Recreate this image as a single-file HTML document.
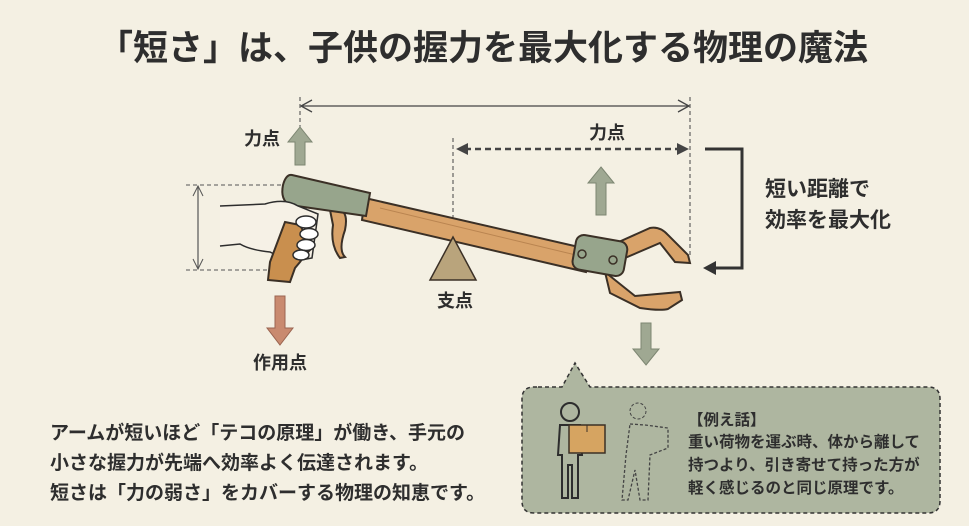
<!DOCTYPE html>
<html><head><meta charset="utf-8"><style>
html,body{margin:0;padding:0;background:#f4f0e3;}
svg{display:block}
text{font-family:"Liberation Sans","Noto Sans CJK JP",sans-serif;font-weight:bold;fill:#2e2e2e}
</style></head><body>
<svg width="969" height="526" viewBox="0 0 969 526" xmlns="http://www.w3.org/2000/svg">
<rect width="969" height="526" fill="#f4f0e3"/>
<text x="483" y="60" font-size="35" text-anchor="middle">「短さ」は、子供の握力を最大化する物理の魔法</text>

<line x1="300" y1="97" x2="300" y2="130" stroke="#444" stroke-width="1" stroke-dasharray="4,3"/>
<line x1="690" y1="97" x2="690" y2="255" stroke="#444" stroke-width="1" stroke-dasharray="4,3"/>
<line x1="301" y1="106" x2="689" y2="106" stroke="#444" stroke-width="1.3"/>
<polyline points="312,100 301,106 312,112" fill="none" stroke="#444" stroke-width="1.3"/>
<polyline points="678,100 689,106 678,112" fill="none" stroke="#444" stroke-width="1.3"/>

<text x="262" y="145" font-size="18" text-anchor="middle">力点</text>
<polygon points="300,127 312,142 305,142 305,165 295,165 295,142 288,142" fill="#9fa892" stroke="#7d8672"/>

<text x="607" y="139" font-size="18" text-anchor="middle">力点</text>
<line x1="453" y1="138" x2="453" y2="236" stroke="#444" stroke-width="1" stroke-dasharray="4,3"/>
<line x1="465" y1="149" x2="678" y2="149" stroke="#444" stroke-width="2.5" stroke-dasharray="6,4"/>
<polygon points="456,149 468,143 468,155" fill="#444"/>
<polygon points="689,149 677,143 677,155" fill="#444"/>
<polygon points="601,167 614,183 606,183 606,215 596,215 596,183 588,183" fill="#9fa892" stroke="#7d8672"/>

<polyline points="705,149 742,149 742,268 715,268" fill="none" stroke="#333" stroke-width="3"/>
<polygon points="703,268 716,261 716,275" fill="#333"/>
<text x="765" y="196" font-size="21">短い距離で</text>
<text x="765" y="227" font-size="21">効率を最大化</text>

<line x1="186" y1="185" x2="290" y2="185" stroke="#555" stroke-dasharray="4,3"/>
<line x1="186" y1="270" x2="290" y2="270" stroke="#555" stroke-dasharray="4,3"/>
<line x1="198" y1="186" x2="198" y2="269" stroke="#555" stroke-width="1.2"/>
<polyline points="193,196 198,186 203,196" fill="none" stroke="#555"/>
<polyline points="193,259 198,269 203,259" fill="none" stroke="#555"/>

<polygon points="365,198 592,250 586,272 362,220" fill="#d9a36a" stroke="#3b3026" stroke-width="2"/>
<line x1="380" y1="208" x2="580" y2="256" stroke="#b98450" stroke-width="1"/>
<path d="M612,245 L650,228 Q660,226 668,235 L688,255 L690,263 L675,262 L660,243 L625,258 Z" fill="#d9a36a" stroke="#3b3026" stroke-width="2"/>
<path d="M605,272 L635,296 L680,292 L682,300 L668,309 Q660,311 640,308 L610,293 Z" fill="#d9a36a" stroke="#3b3026" stroke-width="2"/>
<rect x="574" y="238" width="52" height="35" rx="8" fill="#97a58c" stroke="#3b3026" stroke-width="2" transform="rotate(10 600 255)"/>
<circle cx="582" cy="254" r="4" fill="none" stroke="#3b3026" stroke-width="1.5"/>
<circle cx="613" cy="260" r="4" fill="none" stroke="#3b3026" stroke-width="1.5"/>
<path d="M330,210 Q350,205 345,230 Q338,250 345,257 L340,258 Q330,245 333,225 Z" fill="#d9a36a" stroke="#3b3026" stroke-width="2"/>
<path d="M292,175 L370,193 L366,216 L290,205 Q280,200 283,185 Q286,174 292,175 Z" fill="#97a58c" stroke="#3b3026" stroke-width="2"/>
<path d="M220,206 L265,204 Q285,198 298,206 L318,214 L312,258 L290,262 L270,252 Q250,250 240,244 L220,246" fill="#f6f1e6" stroke="#2d2d2d" stroke-width="1.5"/>
<path d="M285,222 L300,225 L312,248 L305,255 L300,262 L295,268 L290,282 L268,280 L270,262 Z" fill="#c98f4e" stroke="#3b3026" stroke-width="2"/>
<ellipse cx="306" cy="222" rx="10" ry="6" fill="#fff" stroke="#2d2d2d" stroke-width="1.5"/>
<ellipse cx="309" cy="234" rx="9" ry="5.5" fill="#fff" stroke="#2d2d2d" stroke-width="1.5"/>
<ellipse cx="306" cy="245" rx="9" ry="5.5" fill="#fff" stroke="#2d2d2d" stroke-width="1.5"/>
<ellipse cx="301" cy="255" rx="8" ry="5" fill="#fff" stroke="#2d2d2d" stroke-width="1.5"/>

<polygon points="453,237 476,280 430,280" fill="#b9a47c" stroke="#3b3026" stroke-width="1.5"/>
<text x="455" y="307" font-size="18" text-anchor="middle">支点</text>

<polygon points="280,345 293,328 285,328 285,296 275,296 275,328 267,328" fill="#c98a6f" stroke="#9a6450"/>
<text x="280" y="369" font-size="18" text-anchor="middle">作用点</text>

<polygon points="646,365 659,349 651,349 651,323 641,323 641,349 633,349" fill="#9fa892" stroke="#7d8672"/>

<text x="50" y="439" font-size="19">アームが短いほど「テコの原理」が働き、手元の</text>
<text x="50" y="469" font-size="19">小さな握力が先端へ効率よく伝達されます。</text>
<text x="50" y="499" font-size="19">短さは「力の弱さ」をカバーする物理の知恵です。</text>

<path d="M538,387 L562,387 L575,363 L590,387 L928,387 Q940,387 940,399 L940,501 Q940,513 928,513 L534,513 Q522,513 522,501 L522,399 Q522,387 534,387 Z" fill="#aeb6a0" stroke="#333" stroke-width="1.5" stroke-dasharray="4,3"/>
<circle cx="570" cy="412" r="9" fill="none" stroke="#2d2d2d" stroke-width="2"/>
<path d="M560,425 L580,425 L582,455 L578,455 L578,498 L572,498 L572,465 L568,465 L568,498 L562,498 L562,455 L558,455 Z" fill="none" stroke="#2d2d2d" stroke-width="2"/>
<rect x="569" y="425" width="36" height="28" fill="#d6a461" stroke="#3b3026" stroke-width="1.5"/>
<line x1="587" y1="425" x2="587" y2="432" stroke="#3b3026"/>
<circle cx="638" cy="411" r="8" fill="none" stroke="#444" stroke-dasharray="3,2"/>
<path d="M630,424 L645,425 L668,428 L668,448 L650,455 L648,500 L640,500 L635,470 L628,500 L622,500 L626,455 Z" fill="none" stroke="#444" stroke-width="1.3" stroke-dasharray="3,2"/>
<text x="688" y="425" font-size="15.5">【例え話】</text>
<text x="688" y="447" font-size="15.5">重い荷物を運ぶ時、体から離して</text>
<text x="688" y="470" font-size="15.5">持つより、引き寄せて持った方が</text>
<text x="688" y="493" font-size="15.5">軽く感じるのと同じ原理です。</text>
</svg>
</body></html>
